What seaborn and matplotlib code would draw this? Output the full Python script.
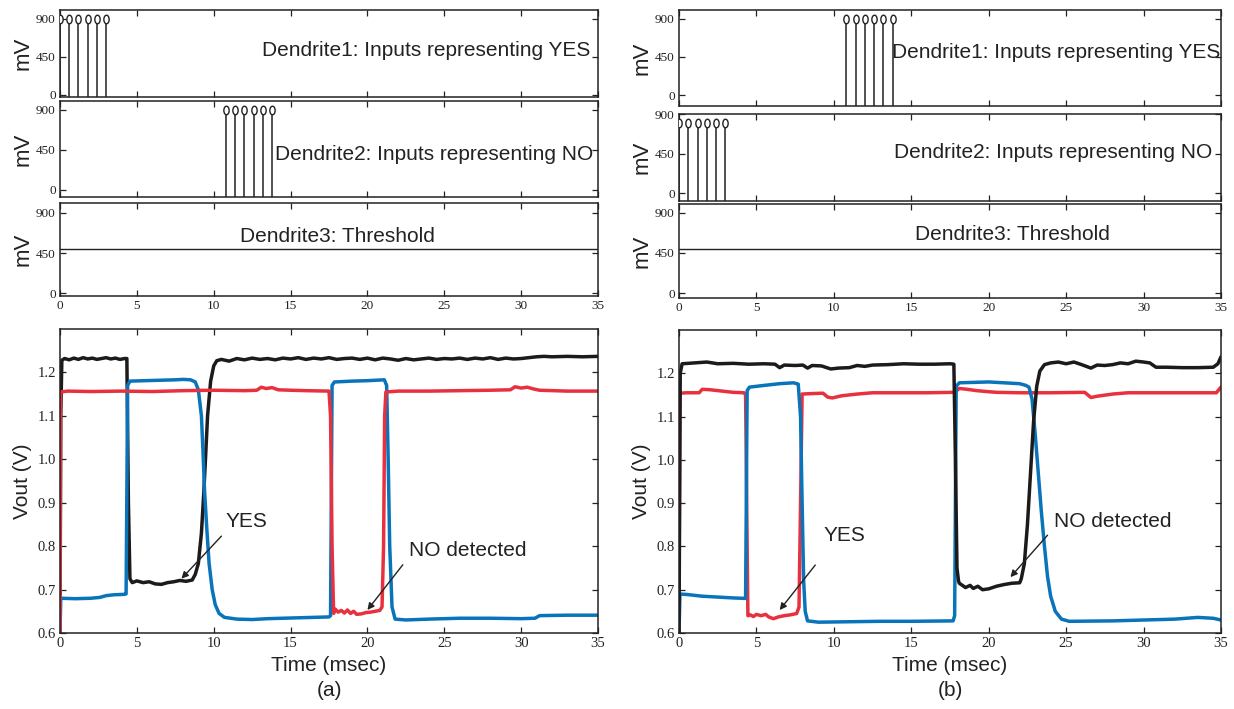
import numpy as np
import pandas as pd
import matplotlib
matplotlib.use("Agg")
import matplotlib.pyplot as plt
from matplotlib.path import Path
from matplotlib.transforms import Affine2D
import seaborn as sns

sns.set_style("ticks")
plt.rcParams['font.family'] = ['Liberation Sans', 'DejaVu Sans']

# ---------------- data ----------------
# spike inputs (ms, mV)
a_yes_t = [0.0, 0.6, 1.2, 1.8, 2.4, 3.0]
a_no_t = [10.8, 11.4, 12.0, 12.6, 13.2, 13.8]
b_yes_t = [10.8, 11.4, 12.0, 12.6, 13.2, 13.8]
b_no_t = [0.0, 0.6, 1.2, 1.8, 2.4, 3.0]
spike_mv = 900
b_no_mv = 800
threshold_mv = 500

# panel (a) output traces
a_black_t = [0, 0.05, 0.12, 0.3, 0.6, 0.9, 1.2, 1.5, 1.8, 2.1, 2.4, 2.7, 3.0, 3.3, 3.6, 3.9, 4.2, 4.35,
             4.45, 4.55, 4.7, 5.0, 5.4, 5.8, 6.2, 6.6, 7.0, 7.4, 7.8, 8.2, 8.6, 8.8, 9.0, 9.2, 9.35, 9.45,
             9.6, 9.8, 10.0, 10.2, 10.5, 11.0, 11.5, 12.0, 12.5, 13.0, 13.5, 14.0, 14.5, 15.0, 15.5, 16.0,
             16.5, 17.0, 17.5, 18.0, 18.5, 19.0, 19.5, 20.0, 20.5, 21.0, 21.5, 22.0, 22.5, 23.0, 23.5,
             24.0, 24.5, 25.0, 25.5, 26.0, 26.5, 27.0, 27.5, 28.0, 28.5, 29.0, 29.5, 30.0, 30.5, 31.0,
             31.5, 32.0, 33.0, 34.0, 35.0]
a_black_v = [0.60, 1.10, 1.228, 1.232, 1.229, 1.233, 1.230, 1.234, 1.231, 1.233, 1.230, 1.232, 1.234,
             1.231, 1.233, 1.230, 1.232, 1.232,
             0.90, 0.725, 0.716, 0.720, 0.716, 0.718, 0.713, 0.712, 0.716, 0.718, 0.721, 0.719, 0.722,
             0.735, 0.76, 0.83, 0.92, 0.99, 1.10, 1.18, 1.215, 1.227, 1.230, 1.226, 1.232, 1.229, 1.233,
             1.230, 1.232, 1.229, 1.233, 1.231, 1.234, 1.230, 1.233, 1.231, 1.234, 1.230, 1.232, 1.233,
             1.230, 1.233, 1.229, 1.233, 1.231, 1.228, 1.232, 1.229, 1.231, 1.233, 1.230, 1.232, 1.231,
             1.233, 1.230, 1.233, 1.231, 1.234, 1.230, 1.233, 1.231, 1.232, 1.234, 1.236, 1.237, 1.236,
             1.237, 1.236, 1.237]
a_blue_t = [0, 0.05, 1.0, 2.0, 2.6, 3.0, 3.5, 4.2, 4.3, 4.4, 4.55, 5.5, 6.5, 7.5, 8.0, 8.5, 8.8, 9.0,
            9.2, 9.3, 9.4, 9.55, 9.7, 9.9, 10.1, 10.35, 10.7, 11.5, 12.5, 13.5, 14.5, 15.5, 16.5, 17.5,
            17.6, 17.7, 17.85, 19.0, 20.0, 21.1, 21.25, 21.35, 21.45, 21.6, 21.8, 22.5, 24.0, 26.0, 28.0,
            30.0, 30.9, 31.2, 33.0, 35.0]
a_blue_v = [0.60, 0.680, 0.679, 0.680, 0.682, 0.686, 0.688, 0.689, 0.690, 1.17, 1.180, 1.181, 1.182,
            1.183, 1.184, 1.183, 1.178, 1.16, 1.10, 1.02, 0.93, 0.84, 0.76, 0.70, 0.665, 0.645, 0.636,
            0.632, 0.631, 0.633, 0.634, 0.635, 0.636, 0.637, 0.640, 1.17, 1.178, 1.180, 1.181, 1.183,
            1.17, 1.00, 0.80, 0.66, 0.632, 0.630, 0.632, 0.634, 0.634, 0.633, 0.634, 0.640, 0.641, 0.641]
a_red_t = [0, 0.04, 0.5, 2.0, 4.0, 6.0, 8.0, 10.0, 12.0, 12.8, 13.1, 13.4, 13.8, 14.2, 15.0, 16.0,
           17.5, 17.6, 17.7, 17.8, 17.9, 18.1, 18.3, 18.5, 18.7, 18.9, 19.1, 19.3, 19.6, 19.9, 20.2,
           20.5, 20.8, 20.95, 21.05, 21.12, 21.2, 22.0, 24.0, 26.0, 28.0, 29.3, 29.6, 30.0, 30.4, 30.8,
           31.2, 33.0, 35.0]
a_red_v = [0.60, 1.155, 1.157, 1.156, 1.157, 1.156, 1.158, 1.159, 1.158, 1.159, 1.166, 1.163, 1.165,
           1.160, 1.159, 1.158, 1.157, 1.10, 0.80, 0.645, 0.655, 0.648, 0.652, 0.646, 0.653, 0.645, 0.650,
           0.643, 0.644, 0.647, 0.648, 0.650, 0.652, 0.66, 0.80, 1.10, 1.155, 1.157, 1.157, 1.158, 1.159,
           1.160, 1.167, 1.164, 1.166, 1.162, 1.159, 1.157, 1.157]

# panel (b) output traces
b_black_t = [0, 0.08, 0.2, 1.0, 1.8, 2.5, 3.5, 4.5, 5.5, 6.2, 6.5, 6.8, 7.5, 8.0, 8.3, 8.6, 9.2, 9.8,
             10.3, 11.0, 11.5, 12.0, 12.5, 13.5, 14.5, 15.5, 16.5, 17.5, 17.75, 17.85, 17.95, 18.05,
             18.1, 18.5, 18.8, 19.0, 19.3, 19.6, 20.0, 20.5, 21.0, 21.5, 22.0, 22.1, 22.3, 22.5, 22.7,
             22.9, 23.1, 23.3, 23.6, 24.0, 24.5, 25.0, 25.5, 26.0, 26.6, 27.0, 27.5, 28.0, 28.5, 29.0,
             29.5, 30.0, 30.4, 30.8, 31.5, 32.5, 33.5, 34.5, 34.8, 35.0]
b_black_v = [0.60, 1.20, 1.222, 1.224, 1.226, 1.222, 1.223, 1.221, 1.222, 1.221, 1.213, 1.219, 1.218,
             1.219, 1.212, 1.218, 1.217, 1.210, 1.212, 1.213, 1.218, 1.216, 1.219, 1.220, 1.222, 1.221,
             1.221, 1.222, 1.221, 1.00, 0.75, 0.72, 0.715, 0.705, 0.710, 0.703, 0.708, 0.700, 0.702,
             0.708, 0.712, 0.715, 0.716, 0.725, 0.76, 0.85, 0.97, 1.09, 1.17, 1.205, 1.220, 1.224, 1.226,
             1.222, 1.226, 1.220, 1.212, 1.219, 1.218, 1.220, 1.224, 1.222, 1.228, 1.226, 1.224, 1.214,
             1.214, 1.213, 1.213, 1.214, 1.222, 1.238]
b_blue_t = [0, 0.06, 0.5, 1.5, 2.5, 3.5, 4.2, 4.3, 4.4, 4.55, 5.5, 6.5, 7.4, 7.7, 7.85, 7.95, 8.05,
            8.15, 8.3, 9.0, 11.0, 13.0, 15.0, 17.7, 17.8, 17.9, 18.1, 20.0, 21.0, 22.0, 22.4, 22.6,
            22.8, 23.0, 23.2, 23.4, 23.6, 23.8, 24.0, 24.3, 24.7, 25.2, 28.0, 30.0, 32.0, 33.5, 34.5,
            35.0]
b_blue_v = [0.60, 0.690, 0.689, 0.685, 0.683, 0.681, 0.680, 0.680, 1.16, 1.168, 1.172, 1.176, 1.178,
            1.175, 1.10, 0.90, 0.72, 0.65, 0.628, 0.625, 0.626, 0.627, 0.627, 0.628, 0.640, 1.17, 1.178,
            1.180, 1.178, 1.176, 1.172, 1.168, 1.14, 1.06, 0.97, 0.88, 0.80, 0.73, 0.685, 0.650, 0.632,
            0.627, 0.628, 0.630, 0.632, 0.636, 0.634, 0.630]
b_red_t = [0, 0.05, 0.5, 1.3, 1.5, 2.0, 2.5, 3.0, 3.5, 4.2, 4.3, 4.4, 4.45, 4.6, 4.8, 5.0, 5.3, 5.6,
           5.8, 6.1, 6.4, 6.8, 7.2, 7.6, 7.75, 7.85, 7.95, 8.5, 9.3, 9.6, 9.9, 10.5, 11.5, 12.5, 14.0,
           16.0, 17.8, 18.1, 18.6, 19.2, 19.8, 20.5, 22.0, 24.0, 26.2, 26.6, 27.0, 28.0, 29.0, 31.0,
           33.0, 34.7, 35.0]
b_red_v = [0.60, 1.154, 1.155, 1.155, 1.163, 1.162, 1.160, 1.158, 1.156, 1.155, 1.150, 0.80, 0.640,
           0.642, 0.638, 0.643, 0.640, 0.643, 0.637, 0.633, 0.637, 0.640, 0.642, 0.645, 0.66, 0.90,
           1.152, 1.153, 1.154, 1.145, 1.143, 1.148, 1.152, 1.155, 1.155, 1.155, 1.156, 1.165, 1.163,
           1.160, 1.158, 1.156, 1.155, 1.155, 1.156, 1.144, 1.147, 1.152, 1.155, 1.155, 1.155, 1.155,
           1.168]

top_labels = ["Dendrite1: Inputs representing YES", "Dendrite2: Inputs representing NO",
              "Dendrite3: Threshold"]
x_ticks = [0, 5, 10, 15, 20, 25, 30, 35]
mv_ticks = [0, 450, 900]
vout_ticks = [0.6, 0.7, 0.8, 0.9, 1.0, 1.1, 1.2]

# ---------------- style ----------------
BLACK = "#1c1a1a"
BLUE = "#0a74bb"
RED = "#e8313f"
SERIF = ['Liberation Serif', 'DejaVu Serif']
W, H = 1234, 709
fig = plt.figure(figsize=(W / 100, H / 100), dpi=100)

ell = Path.unit_circle().transformed(Affine2D().scale(0.62, 1.0))


def frac(x0, y0, x1, y1):
    return [x0 / W, 1 - y1 / H, (x1 - x0) / W, (y1 - y0) / H]


def style(ax, xlabels):
    ax.set_xlim(0, 35)
    ax.set_xticks(x_ticks)
    ax.tick_params(direction="in", top=True, right=True, length=4, width=0.9,
                   labelsize=9.5, colors="#222222", pad=3)
    for lab in ax.get_xticklabels() + ax.get_yticklabels():
        lab.set_family(SERIF)
    if not xlabels:
        ax.set_xticklabels([])
    for s in ax.spines.values():
        s.set_linewidth(1.1)
        s.set_color("#222222")
    ax.set_xlabel("")


def stems(ax, times, val, ylo):
    ax.vlines(times, ylo, val, color="#222222", lw=1.1)
    sns.scatterplot(x=times, y=[val] * len(times), ax=ax, marker=ell, s=38,
                    facecolor="white", edgecolor="#222222", linewidth=1.0, zorder=3)


def trace(ax, t, v, c):
    df = pd.DataFrame({"t": t, "v": v})
    sns.lineplot(data=df, x="t", y="v", ax=ax, color=c, lw=2.5, sort=False,
                 estimator=None)


panels = {
    "a": dict(x0=60, x1=598,
              tops=[(10, 97, (-24, 1006)), (101, 197, (-80, 1000)), (203, 296, (-30, 1010))],
              bottom=(329, 633),
              yes=a_yes_t, no=a_no_t, no_mv=spike_mv,
              lines=[(a_black_t, a_black_v, BLACK), (a_blue_t, a_blue_v, BLUE),
                     (a_red_t, a_red_v, RED)],
              ann=[("YES", (7.9, 0.725), (10.5, 0.823), (10.8, 0.857)),
                   ("NO detected", (20.0, 0.653), (22.3, 0.757), (22.7, 0.79))],
              text_x=[0.985, 0.992, 0.515], text_y=[0.54, 0.44, 0.645], label="(a)"),
    "b": dict(x0=679, x1=1221,
              tops=[(10, 106, (-130, 1006)), (114, 201, (-90, 905)), (204, 298, (-56, 1000))],
              bottom=(330, 633),
              yes=b_yes_t, no=b_no_t, no_mv=b_no_mv,
              lines=[(b_red_t, b_red_v, RED), (b_blue_t, b_blue_v, BLUE),
                     (b_black_t, b_black_v, BLACK)],
              ann=[("YES", (6.5, 0.653), (8.8, 0.757), (9.3, 0.825)),
                   ("NO detected", (21.4, 0.729), (23.8, 0.826), (24.2, 0.857))],
              text_x=[0.999, 0.983, 0.615], text_y=[0.56, 0.56, 0.68], label="(b)"),
}

for key, p in panels.items():
    for i, (yt, yb, ylim) in enumerate(p["tops"]):
        ax = fig.add_axes(frac(p["x0"], yt, p["x1"], yb))
        ax.set_ylim(*ylim)
        ax.set_yticks(mv_ticks)
        if i == 0:
            stems(ax, p["yes"], spike_mv, ylim[0])
        elif i == 1:
            stems(ax, p["no"], p["no_mv"], ylim[0])
        else:
            sns.lineplot(x=[0, 35], y=[threshold_mv, threshold_mv], ax=ax,
                         color="#222222", lw=1.0)
        style(ax, i == 2)
        ax.set_ylim(*ylim)
        ax.set_ylabel("mV", fontsize=16, labelpad=2, color="#222222")
        ha = "right" if i < 2 else "center"
        ax.text(p["text_x"][i], p["text_y"][i], top_labels[i], transform=ax.transAxes,
                ha=ha, va="center", fontsize=15, color="#222222")

    yt, yb = p["bottom"]
    ax = fig.add_axes(frac(p["x0"], yt, p["x1"], yb))
    for t, v, c in p["lines"]:
        trace(ax, t, v, c)
    ax.set_ylim(0.6, 1.3)
    ax.set_yticks(vout_ticks)
    style(ax, True)
    ax.tick_params(labelsize=10.5)
    for lab in ax.get_xticklabels() + ax.get_yticklabels():
        lab.set_family(SERIF)
    ax.set_xlabel("Time (msec)", fontsize=15, labelpad=4, color="#222222")
    ax.set_ylabel("Vout (V)", fontsize=15, labelpad=4, color="#222222")
    for txt, head, tail, tpos in p["ann"]:
        ax.annotate("", xy=head, xytext=tail,
                    arrowprops=dict(arrowstyle="-|>", color="#222222", lw=1.0,
                                    mutation_scale=10, shrinkA=0, shrinkB=0))
        ax.text(tpos[0], tpos[1], txt, fontsize=15, ha="left", va="center",
                color="#222222")
    cx = (p["x0"] + p["x1"]) / 2 / W
    fig.text(cx, 1 - 690 / H, p["label"], ha="center", va="center", fontsize=15,
             color="#222222")

fig.savefig("out.png", dpi=100)
